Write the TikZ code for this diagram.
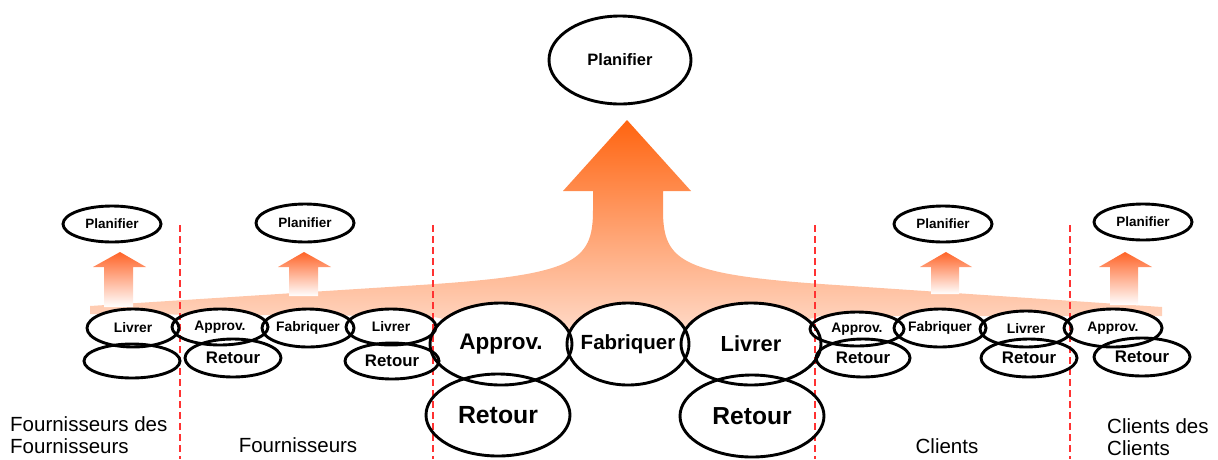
\documentclass[tikz,border=0pt]{standalone}
\usepackage{fontspec}
\setmainfont{Liberation Sans}
\usetikzlibrary{shapes.geometric}
\definecolor{flowtop}{RGB}{255,100,16}
\definecolor{flowbot}{RGB}{255,218,200}
\definecolor{risetop}{RGB}{255,100,40}
\definecolor{sepred}{RGB}{255,50,50}

% name / x / y / x radius / y radius / font size / label
\def\celllist{%
  pc/620/60/71/44/16.5/Planifier,
  p1/112/224/49/18/13.5/Planifier,
  p2/305/223/49/19/13.5/Planifier,
  p3/943/224/49/18/13.5/Planifier,
  p4/1143/222/49/18/13.5/Planifier,
  a1/133/328/46/19/13.8/Livrer,
  a1r/132/361/48/17/13.8/{},
  b1/220/327/48/18/13.8/Approv.,
  b1r/233/358/48/19/16.8/Retour,
  b2/308/328/46/19/13.8/Fabriquer,
  b3/391/327/45/18/13.8/Livrer,
  b3r/392/361/47/18/16.8/Retour,
  c1/501/344/71/41/22.5/Approv.,
  c1r/498/415/72/41/24.8/Retour,
  c2/628/344/61/41/20.5/Fabriquer,
  c3/751/344/70/41/21.8/Livrer,
  c3r/752/416/72/41/24.6/Retour,
  d1/857/329/47/17/13.8/Approv.,
  d1r/863/358/47/19/16.8/Retour,
  d2/940/328/46/19/13.8/Fabriquer,
  d3/1026/329/46/18/13.8/Livrer,
  d3r/1029/358/48/19/16.8/Retour,
  e1/1113/328/49/19/13.8/Approv.,
  e1r/1142/357/48/19/16.8/Retour}

\begin{document}
\begin{tikzpicture}[x=1pt,y=-1pt,
  cell/.style={ellipse, draw=black, line width=2.9pt, inner sep=0pt},
  sep/.style={draw=sepred, line width=1.1pt, dash pattern=on 7pt off 4pt},
  region/.style={font=\fontsize{20.5}{22}\selectfont, align=left, inner sep=0pt},
  bigflow/.style={top color=flowtop, bottom color=flowbot},
  riseflow/.style={top color=risetop, bottom color=white}]
\useasboundingbox (0,0) rectangle (1218,459);

% central flow: band along the chain rising into the big arrow
\shade[bigflow] (90,314) -- (90,306) -- (420,285)
  .. controls (575,275) and (593,262) .. (593,210)
  -- (593,191) -- (563,191) -- (627,120) -- (691,191) -- (663,191) -- (663,210)
  .. controls (663,262) and (681,275) .. (836,285)
  -- (1162,307) -- (1162,316) -- (820,316) -- (760,332) -- (500,332) -- (430,316) -- cycle;

% local planning arrows
\shade[riseflow] (104,307) -- (104,267) -- (93,267) -- (120,252) -- (146,267) -- (133,267) -- (133,307) -- cycle;
\shade[riseflow] (289,296) -- (289,267) -- (278,267) -- (304,252) -- (331,267) -- (318,267) -- (318,296) -- cycle;
\shade[riseflow] (931,294) -- (931,267) -- (920,267) -- (946,252) -- (972,267) -- (959,267) -- (959,294) -- cycle;
\shade[riseflow] (1110,305) -- (1110,267) -- (1099,267) -- (1125,252) -- (1152,267) -- (1138,267) -- (1138,305) -- cycle;

% white interiors of the process ellipses
\foreach \n/\x/\y/\rx/\ry/\s/\t in \celllist
  \fill[white] (\x,\y) ellipse [x radius=\rx, y radius=\ry];

% boundaries between the partners
\foreach \sx in {180,433,815,1070}
  \draw[sep] (\sx,225) -- (\sx,459);

% process ellipses with their labels
\foreach \n/\x/\y/\rx/\ry/\s/\t in \celllist
  \node[cell, minimum width={2*\rx*1pt}, minimum height={2*\ry*1pt},
        label={[inner sep=0pt, font=\bfseries\fontsize{\s}{\s}\selectfont]center:\t}]
        (\n) at (\x,\y) {};

% partner names (base anchor sits on the last line)
\node[region, anchor=base west] (ffour) at (10,453) {Fournisseurs des\\Fournisseurs};
\node[region, anchor=base] (four) at (298,452) {Fournisseurs};
\node[region, anchor=base] (cli) at (947,453) {Clients};
\node[region, anchor=base west] (ccli) at (1107,455) {Clients des\\Clients};
\end{tikzpicture}
\end{document}
